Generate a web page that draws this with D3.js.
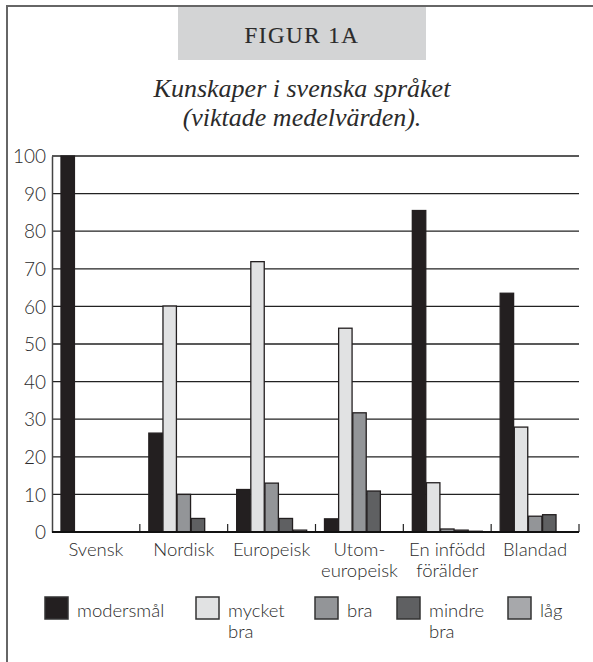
<!DOCTYPE html>
<html>
<head>
<meta charset="utf-8">
<script src="https://cdn.jsdelivr.net/npm/d3@7"></script>
<style>
	body { margin: 0; background: #fff; }
	text { fill: #2b2b2b; }
	.sans { font-family: Lato, "Open Sans", sans-serif; font-weight: 300; }
	.serif { font-family: "Liberation Serif", "DejaVu Serif", serif; }
</style>
</head>
<body>
<div id="chart"></div>
<script>
var categories = ["Svensk", "Nordisk", "Europeisk", "Utom-\neuropeisk", "En infödd\nförälder", "Blandad"];
var series = ["modersmål", "mycket\nbra", "bra", "mindre\nbra", "låg"];
var colors = ["#231f20", "#e1e2e3", "#939598", "#5f6062", "#a7a8ab"];

var modersmal = [100, 26.3, 11.3, 3.5, 85.5, 63.5];
var mycketBra = [0, 60.1, 71.9, 54.2, 13.1, 27.9];
var bra = [0, 10, 13, 31.7, 0.8, 4.2];
var mindreBra = [0, 3.6, 3.6, 10.9, 0.5, 4.6];
var lag = [0, 0, 0.5, 0, 0.2, 0];

var yTicks = [0, 10, 20, 30, 40, 50, 60, 70, 80, 90, 100];

var values = [modersmal, mycketBra, bra, mindreBra, lag];

var W = 593, H = 662;
var margin = {top: 156, left: 52, right: 14, bottom: 130};
var width = W - margin.left - margin.right,
		height = H - margin.top - margin.bottom;

var svg = d3.select("#chart").append("svg")
		.attr("width", W)
		.attr("height", H);

// frame (left + top)
svg.append("path")
	.attr("d", "M7," + H + "V6H" + W)
	.attr("fill", "none")
	.attr("stroke", "#666")
	.attr("stroke-width", 2);

// header
svg.append("rect")
	.attr("x", 178).attr("y", 7)
	.attr("width", 248).attr("height", 53)
	.attr("fill", "#d3d4d5");

svg.append("text")
	.attr("class", "serif")
	.attr("x", 302).attr("y", 43)
	.attr("text-anchor", "middle")
	.style("font-size", "23px")
	.style("letter-spacing", "1.5px")
	.style("stroke", "#2b2b2b")
	.style("stroke-width", 0.15)
	.text("FIGUR 1A");

svg.append("text")
	.attr("class", "serif")
	.attr("x", 302).attr("y", 97)
	.attr("text-anchor", "middle")
	.style("font-size", "26px")
	.style("font-style", "italic")
	.text("Kunskaper i svenska språket");

svg.append("text")
	.attr("class", "serif")
	.attr("x", 302).attr("y", 126)
	.attr("text-anchor", "middle")
	.style("font-size", "26px")
	.style("font-style", "italic")
	.text("(viktade medelvärden).");

var g = svg.append("g")
		.attr("transform", "translate(" + margin.left + "," + margin.top + ")");

var x0 = d3.scaleBand()
		.domain(categories)
		.range([0, width]);

var x1 = d3.scaleBand()
		.domain(d3.range(series.length))
		.range([9, 79])
		.paddingInner(0.05);

var y = d3.scaleLinear()
		.domain([0, 100])
		.range([height, 0]);

// gridlines
g.append("g")
	.selectAll("line")
	.data(yTicks.slice(1))
	.enter()
	.append("line")
	.attr("x1", 0).attr("x2", width)
	.attr("y1", function(d) { return y(d); })
	.attr("y2", function(d) { return y(d); })
	.attr("stroke", "#222")
	.attr("stroke-width", 1.3);

var yAxis = d3.axisLeft(y)
		.tickValues(yTicks)
		.tickSize(0)
		.tickPadding(6);

g.append("g")
	.attr("class", "y axis sans")
	.call(yAxis)
	.call(function(a) {
		a.select(".domain").attr("stroke", "#444").attr("stroke-width", 1.5);
		a.selectAll("text")
			.style("font-size", "19px")
			.style("font-family", "Lato, sans-serif")
			.style("font-weight", 300)
			.attr("fill", "#2b2b2b")
			.attr("dy", "0.35em");
	});

// bars
var groups = g.selectAll(".grp")
		.data(categories)
		.enter()
		.append("g")
		.attr("class", "grp")
		.attr("transform", function(d) { return "translate(" + x0(d) + ",0)"; });

groups.selectAll("rect")
	.data(function(d, i) { return values.map(function(v, s) { return {s: s, v: v[i]}; }); })
	.enter()
	.append("rect")
	.attr("x", function(d) { return x1(d.s); })
	.attr("width", x1.bandwidth())
	.attr("y", function(d) { return y(d.v); })
	.attr("height", function(d) { return height - y(d.v); })
	.attr("fill", function(d) { return colors[d.s]; })
	.attr("stroke", "#231f20")
	.attr("stroke-width", 1.3);

// x axis
var xAxis = d3.axisBottom(x0)
		.tickSize(0)
		.tickPadding(8);

var xa = g.append("g")
		.attr("class", "x axis sans")
		.attr("transform", "translate(0," + height + ")")
		.call(xAxis);

xa.select(".domain").remove();
xa.selectAll(".tick text").remove();
xa.selectAll(".tick").each(function(d) {
	var t = d3.select(this).append("text")
			.attr("y", 24)
			.attr("text-anchor", "middle")
			.style("font-size", "18.5px")
			.style("font-family", "Lato, sans-serif")
			.style("font-weight", 300)
			.attr("fill", "#2b2b2b");
	d.split("\n").forEach(function(s, i) {
		t.append("tspan").attr("x", 0).attr("dy", i ? 21 : 0).text(s);
	});
});

xa.selectAll(".sep")
	.data(categories)
	.enter()
	.append("line")
	.attr("x1", function(d) { return x0(d) + x0.bandwidth(); })
	.attr("x2", function(d) { return x0(d) + x0.bandwidth(); })
	.attr("y1", 0).attr("y2", -8)
	.attr("stroke", "#222")
	.attr("stroke-width", 1.2);

xa.append("line")
	.attr("x1", 0).attr("x2", width)
	.attr("stroke", "#111")
	.attr("stroke-width", 2.2);

// legend
var legX = [45, 196, 315, 397, 508];
var legend = svg.append("g")
		.attr("class", "sans")
		.selectAll("g")
		.data(series)
		.enter()
		.append("g")
		.attr("transform", function(d, i) { return "translate(" + legX[i] + ",597)"; });

legend.append("rect")
	.attr("width", 23).attr("height", 22)
	.attr("fill", function(d, i) { return colors[i]; })
	.attr("stroke", "#333")
	.attr("stroke-width", 1.5);

legend.append("text")
	.attr("y", 20)
	.style("font-size", "18.5px")
	.attr("fill", "#2b2b2b")
	.each(function(d) {
		var t = d3.select(this);
		d.split("\n").forEach(function(s, i) {
			t.append("tspan").attr("x", 32).attr("dy", i ? 21 : 0).text(s);
		});
	});
</script>
</body>
</html>
